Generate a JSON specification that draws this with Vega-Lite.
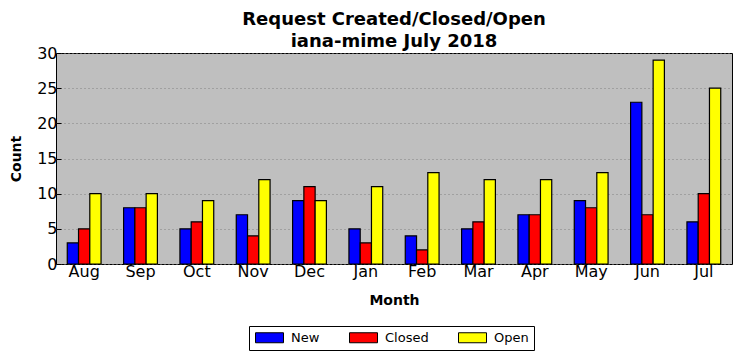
{
  "$schema": "https://vega.github.io/schema/vega-lite/v6.json",
  "width": 676,
  "height": 211,
  "autosize": "none",
  "padding": {"left": 56, "top": 53, "right": 10, "bottom": 97},
  "background": "white",
  "title": {
    "text": ["Request Created/Closed/Open", "iana-mime July 2018"],
    "font": "DejaVu Sans",
    "fontSize": 18,
    "fontWeight": "bold",
    "color": "black",
    "lineHeight": 22,
    "offset": -6,
    "anchor": "middle"
  },
  "config": {
    "font": "DejaVu Sans",
    "view": {"fill": "#bfbfbf", "stroke": "black", "strokeWidth": 1}
  },
  "data": {
    "values": [
      {"month": "Aug", "type": "New", "count": 3},
      {"month": "Aug", "type": "Closed", "count": 5},
      {"month": "Aug", "type": "Open", "count": 10},
      {"month": "Sep", "type": "New", "count": 8},
      {"month": "Sep", "type": "Closed", "count": 8},
      {"month": "Sep", "type": "Open", "count": 10},
      {"month": "Oct", "type": "New", "count": 5},
      {"month": "Oct", "type": "Closed", "count": 6},
      {"month": "Oct", "type": "Open", "count": 9},
      {"month": "Nov", "type": "New", "count": 7},
      {"month": "Nov", "type": "Closed", "count": 4},
      {"month": "Nov", "type": "Open", "count": 12},
      {"month": "Dec", "type": "New", "count": 9},
      {"month": "Dec", "type": "Closed", "count": 11},
      {"month": "Dec", "type": "Open", "count": 9},
      {"month": "Jan", "type": "New", "count": 5},
      {"month": "Jan", "type": "Closed", "count": 3},
      {"month": "Jan", "type": "Open", "count": 11},
      {"month": "Feb", "type": "New", "count": 4},
      {"month": "Feb", "type": "Closed", "count": 2},
      {"month": "Feb", "type": "Open", "count": 13},
      {"month": "Mar", "type": "New", "count": 5},
      {"month": "Mar", "type": "Closed", "count": 6},
      {"month": "Mar", "type": "Open", "count": 12},
      {"month": "Apr", "type": "New", "count": 7},
      {"month": "Apr", "type": "Closed", "count": 7},
      {"month": "Apr", "type": "Open", "count": 12},
      {"month": "May", "type": "New", "count": 9},
      {"month": "May", "type": "Closed", "count": 8},
      {"month": "May", "type": "Open", "count": 13},
      {"month": "Jun", "type": "New", "count": 23},
      {"month": "Jun", "type": "Closed", "count": 7},
      {"month": "Jun", "type": "Open", "count": 29},
      {"month": "Jul", "type": "New", "count": 6},
      {"month": "Jul", "type": "Closed", "count": 10},
      {"month": "Jul", "type": "Open", "count": 25}
    ]
  },
  "mark": {"type": "bar", "stroke": "black", "strokeWidth": 1.2},
  "encoding": {
    "x": {
      "field": "month",
      "type": "nominal",
      "sort": null,
      "scale": {"paddingInner": 0.4, "paddingOuter": 0.2},
      "axis": {
        "title": "Month",
        "titleFontSize": 14,
        "titleFontWeight": "bold",
        "titleColor": "black",
        "titlePadding": 14,
        "labelFontSize": 16,
        "labelColor": "black",
        "labelAngle": 0,
        "labelPadding": 4,
        "tickSize": -5,
        "tickColor": "black",
        "domain": false,
        "grid": false
      }
    },
    "xOffset": {"field": "type", "type": "nominal", "sort": ["New", "Closed", "Open"]},
    "y": {
      "field": "count",
      "type": "quantitative",
      "scale": {"domain": [0, 30], "nice": false},
      "axis": {
        "title": "Count",
        "titleFontSize": 14,
        "titleFontWeight": "bold",
        "titleColor": "black",
        "titlePadding": 13,
        "labelFontSize": 16,
        "labelColor": "black",
        "labelPadding": 4,
        "values": [0, 5, 10, 15, 20, 25, 30],
        "tickSize": -5,
        "tickColor": "black",
        "domain": false,
        "grid": true,
        "gridColor": "#808080",
        "gridDash": [1, 3],
        "gridWidth": 1
      }
    },
    "color": {
      "field": "type",
      "type": "nominal",
      "sort": ["New", "Closed", "Open"],
      "scale": {"domain": ["New", "Closed", "Open"], "range": ["#0000ff", "#ff0000", "#ffff00"]},
      "legend": {
        "title": null,
        "orient": "none",
        "legendX": 193,
        "legendY": 273,
        "direction": "horizontal",
        "columns": 3,
        "columnPadding": 27,
        "padding": 5,
        "strokeColor": "black",
        "fillColor": "white",
        "symbolType": "M-2.8,-1H2.8V1H-2.8Z",
        "symbolSize": 100,
        "symbolOffset": 9,
        "symbolStrokeColor": "black",
        "symbolStrokeWidth": 1,
        "symbolOpacity": 1,
        "labelFontSize": 13,
        "labelColor": "black",
        "labelOffset": 15
      }
    }
  }
}
